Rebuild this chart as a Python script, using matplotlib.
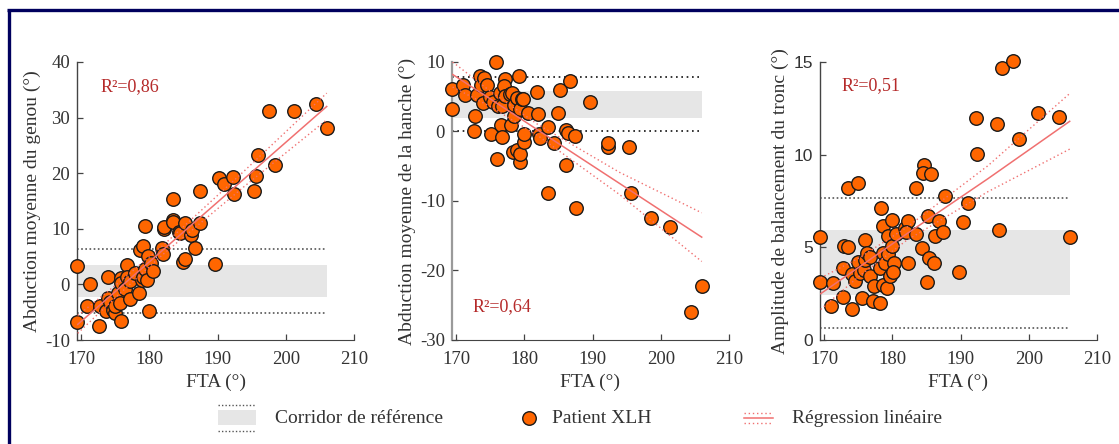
import numpy as np
import matplotlib
matplotlib.use("Agg")
import matplotlib.pyplot as plt
from matplotlib.patches import Rectangle

plt.rcParams['font.family'] = ['Liberation Serif', 'DejaVu Serif']
plt.rcParams['axes.unicode_minus'] = False

# ---- données ----
x_genou = [169.4, 169.4, 171.3, 170.9, 172.6, 172.8, 173.9, 173.6, 174.0, 174.2,
           174.7, 175.0, 175.0, 175.4, 175.8, 175.8, 175.8, 175.7, 176.5, 176.7,
           176.7, 177.2, 177.2, 177.9, 178.5, 178.6, 178.9, 179.1, 179.3, 179.1,
           179.3, 179.6, 179.8, 179.95, 180.2, 180.6, 181.9, 182.0, 182.1, 182.2,
           183.4, 183.4, 183.4, 184.3, 184.5, 185.0, 185.3, 185.3, 186.1, 186.3,
           186.7, 187.4, 187.5, 189.6, 190.2, 190.9, 192.3, 192.4, 195.3, 195.6,
           196.0, 197.6, 198.4, 201.2, 204.4, 206.1]
y_genou = [3.3, -6.8, 0.0, -3.9, -7.4, -3.8, 1.4, -4.7, -2.4, -3.1,
           -4.6, -5.1, -3.9, -1.5, -6.6, 1.2, 0.2, -3.4, -0.9, 3.5,
           1.4, -2.7, 0.6, 2.1, -1.5, 6.1, 0.8, 6.9, 10.5, 1.3,
           2.7, 0.8, 5.1, -4.8, 3.8, 2.5, 6.5, 5.5, 9.9, 10.3,
           15.4, 11.6, 11.2, 9.4, 9.3, 4.0, 4.6, 11.1, 8.8, 9.7,
           6.5, 11.1, 16.8, 3.6, 19.1, 18.1, 19.4, 16.2, 16.8, 19.5,
           23.3, 31.2, 21.5, 31.2, 32.5, 28.1]

x_hanche = [169.4, 169.4, 171.0, 171.3, 172.7, 172.6, 173.0, 173.5, 173.7, 174.1,
            174.0, 174.6, 175.0, 175.1, 175.4, 175.9, 176.0, 176.1, 176.4, 176.6,
            176.8, 176.8, 177.2, 177.0, 177.2, 177.9, 178.1, 178.2, 178.4, 178.5,
            178.5, 178.9, 179.2, 179.0, 179.4, 179.4, 179.3, 179.6, 179.8, 179.9,
            180.0, 180.5, 181.9, 182.0, 182.2, 182.3, 183.4, 183.4, 184.3, 185.0,
            185.3, 186.1, 186.1, 186.4, 186.7, 187.5, 187.6, 189.6, 192.2, 192.2,
            195.3, 195.6, 198.6, 201.3, 204.4, 206.1]
y_hanche = [6.1, 3.3, 6.7, 5.2, 2.2, 0.0, 5.3, 8.0, 6.7, 7.7,
            4.1, 6.7, 5.0, -0.35, 4.2, 10.0, -3.9, 3.7, 5.6, 0.9,
            -0.8, 3.6, 7.5, 6.6, 5.1, 5.4, 0.9, 5.5, -3.0, 2.2,
            3.8, -2.6, 8.0, 4.8, 3.2, -4.4, -3.3, 4.7, 4.7, -1.5,
            -0.3, 2.6, 5.7, 2.5, -0.4, -1.0, 0.6, -8.9, -1.7, 2.6,
            5.9, 0.2, -4.8, -0.2, 7.2, -0.7, -11.0, 4.2, -2.3, -1.7,
            -2.2, -8.9, -12.4, -13.8, -25.9, -22.2]

x_tronc = [169.4, 169.4, 171.0, 171.3, 172.7, 172.8, 172.9, 173.5, 173.5, 174.1,
           174.1, 174.6, 175.0, 175.0, 175.3, 175.5, 176.0, 175.8, 176.0, 176.3,
           176.7, 176.8, 177.2, 177.3, 178.2, 178.2, 178.3, 178.7, 178.7, 178.6,
           179.0, 179.2, 179.3, 179.4, 179.7, 179.9, 180.0, 180.2, 180.1, 180.6,
           181.9, 182.3, 182.0, 182.3, 183.5, 183.5, 184.3, 184.6, 184.5, 185.6,
           185.3, 185.4, 185.1, 186.1, 186.2, 186.8, 187.5, 187.7, 189.7, 190.4,
           191.1, 192.2, 192.4, 195.3, 195.7, 196.1, 197.7, 198.6, 201.3, 204.4,
           206.1]
y_tronc = [5.54, 3.14, 1.84, 3.07, 3.86, 2.33, 5.08, 5.0, 8.2, 1.66,
           3.55, 3.19, 4.22, 8.47, 3.64, 2.24, 5.41, 3.79, 4.31, 4.72,
           4.5, 3.43, 2.11, 2.89, 1.97, 3.86, 7.14, 4.72, 6.17, 2.96,
           4.18, 2.83, 4.63, 5.63, 3.43, 6.49, 5.08, 4.15, 3.68, 5.7,
           6.06, 6.44, 5.84, 4.15, 5.7, 8.19, 4.99, 9.46, 9.01, 8.96,
           6.71, 4.4, 3.14, 4.15, 5.59, 6.44, 5.81, 7.79, 3.68, 6.38,
           7.39, 11.99, 10.04, 11.65, 5.93, 14.68, 15.04, 10.82, 12.26, 12.01,
           5.55]

# régression linéaire et intervalle de confiance
reg_x = [169.5, 175, 182, 194, 206]
reg_genou = [-7.2, -1.3, 6.2, 19.1, 32.0]
reg_genou_hi = [-5.6, -0.2, 7.0, 20.5, 34.4]
reg_genou_lo = [-8.8, -2.4, 5.4, 17.7, 29.6]
reg_hanche = [8.2, 4.7, 0.2, -7.5, -15.2]
reg_hanche_hi = [10.0, 5.8, 1.0, -5.9, -11.7]
reg_hanche_lo = [6.4, 3.6, -0.6, -9.1, -18.7]
reg_tronc = [2.5, 3.9, 5.7, 8.7, 11.8]
reg_tronc_hi = [3.35, 4.4, 6.05, 9.4, 13.3]
reg_tronc_lo = [1.65, 3.4, 5.35, 8.0, 10.3]

# corridors de référence : (bas, haut) du bandeau, (bas, haut) des pointillés
corr_genou = (-2.27, 3.5, -5.2, 6.4)
corr_hanche = (1.9, 5.8, 0.0, 7.9)
corr_tronc = (2.43, 5.94, 0.65, 7.67)

r2 = ["R²=0,86", "R²=0,64", "R²=0,51"]
r2_pos = [(172.9, 35.5), (172.4, -25.2), (172.5, 13.7)]
ylabels = ["Abduction moyenne du genou (°)",
           "Abduction moyenne de la hanche (°)",
           "Amplitude de balancement du tronc (°)"]
ylims = [(-10, 40), (-30, 10), (0, 15)]
yticks = [[-10, 0, 10, 20, 30, 40], [-30, -20, -10, 0, 10], [0, 5, 10, 15]]
xticks = [170, 180, 190, 200, 210]

ORANGE = "#ff6600"
RED = "#f07070"
GRAY_TXT = "#333333"

W, H = 1119, 444
fig = plt.figure(figsize=(W / 100, H / 100), dpi=100)

lefts = [77, 452, 820]
datasets = [(x_genou, y_genou, reg_genou, reg_genou_hi, reg_genou_lo, corr_genou),
            (x_hanche, y_hanche, reg_hanche, reg_hanche_hi, reg_hanche_lo, corr_hanche),
            (x_tronc, y_tronc, reg_tronc, reg_tronc_hi, reg_tronc_lo, corr_tronc)]

for i, (xs, ys, rl, rh, rlo, corr) in enumerate(datasets):
    ax = fig.add_axes([lefts[i] / W, (H - 340) / H, 277 / W, 278 / H])
    x_end = 206.1
    ax.fill_between([169.4, x_end], corr[0], corr[1], color="#e6e6e6", lw=0, zorder=0)
    dcol = "#111111" if i == 1 else "#555555"
    dls = (0, (1, 2.2)) if i == 1 else (0, (1, 1.5))
    ax.plot([169.4, x_end], [corr[2], corr[2]], color=dcol, ls=dls, lw=1.2, zorder=1)
    ax.plot([169.4, x_end], [corr[3], corr[3]], color=dcol, ls=dls, lw=1.2, zorder=1)

    ax.scatter(xs, ys, s=95, c=ORANGE, edgecolors="#1a1a1a", linewidths=1.0,
               zorder=3, clip_on=False)

    ax.plot(reg_x, rl, color=RED, lw=1.1, zorder=4)
    ax.plot(reg_x, rh, color=RED, lw=1.0, ls=(0, (1, 2)), zorder=4)
    ax.plot(reg_x, rlo, color=RED, lw=1.0, ls=(0, (1, 2)), zorder=4)

    ax.text(r2_pos[i][0], r2_pos[i][1], r2[i], color="#b52a2a", fontsize=13,
            va="center", ha="left")

    ax.set_xlim(169.4, 210)
    ax.set_ylim(*ylims[i])
    ax.set_xticks(xticks)
    ax.set_yticks(yticks[i])
    for s in ["top", "right"]:
        ax.spines[s].set_visible(False)
    spcol = "#9a9a9a" if i == 1 else "#444444"
    ax.spines["left"].set_color(spcol)
    ax.spines["left"].set_linewidth(1.6 if i == 1 else 1.0)
    ax.spines["bottom"].set_color("#444444")
    ax.tick_params(direction="in", length=4, width=0.9, colors="#444444",
                   labelcolor=GRAY_TXT, labelsize=13.5)
    ax.tick_params(axis="x", pad=8)
    ax.tick_params(axis="y", pad=5)
    if i == 2:
        for lab in ax.get_yticklabels():
            lab.set_family("Liberation Sans")
            lab.set_fontsize(12.5)
    ax.set_xlabel("FTA (°)", fontsize=14, color=GRAY_TXT, labelpad=4)
    ax.set_ylabel(ylabels[i], fontsize=14, color=GRAY_TXT, labelpad=3)

# cadre et légende en coordonnées pixels
lg = fig.add_axes([0, 0, 1, 1])
lg.set_xlim(0, W)
lg.set_ylim(H, 0)
lg.axis("off")
lg.plot([7, W], [10, 10], color="#00005e", lw=2.4, solid_capstyle="butt")
lg.plot([8.5, 8.5], [10, H], color="#00005e", lw=2.4, solid_capstyle="butt")

lg.add_patch(Rectangle((218, 410), 38, 15, color="#e6e6e6", lw=0))
lg.plot([218, 256], [405, 405], color="#555555", ls=(0, (1, 1.5)), lw=1)
lg.plot([218, 256], [431, 431], color="#555555", ls=(0, (1, 1.5)), lw=1)
lg.text(275, 418, "Corridor de référence", fontsize=14, color=GRAY_TXT, va="center")

lg.scatter([529], [418], s=95, c=ORANGE, edgecolors="#1a1a1a", linewidths=1.0)
lg.text(552, 418, "Patient XLH", fontsize=14, color=GRAY_TXT, va="center")

lg.plot([744, 773], [418, 418], color=RED, lw=1.1)
lg.plot([744, 773], [413, 413], color=RED, lw=1.0, ls=(0, (1, 2)))
lg.plot([744, 773], [423, 423], color=RED, lw=1.0, ls=(0, (1, 2)))
lg.text(792, 418, "Régression linéaire", fontsize=14, color=GRAY_TXT, va="center")

fig.savefig("out.png", dpi=100)
